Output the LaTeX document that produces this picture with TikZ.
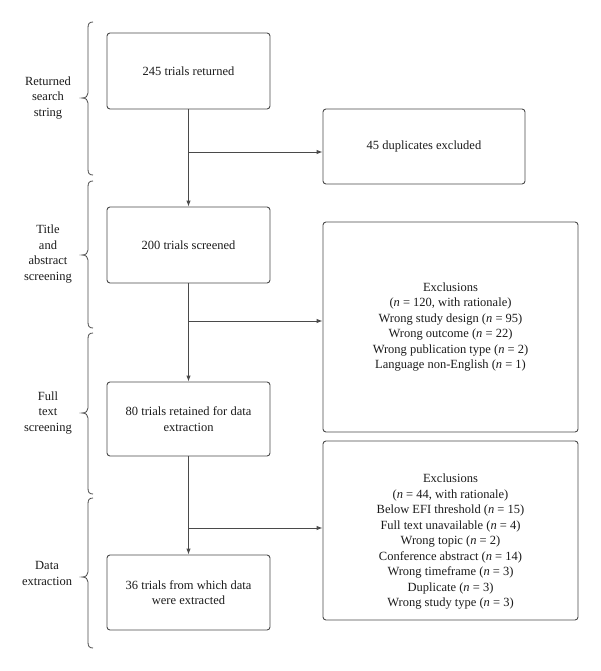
\documentclass[tikz,border=0pt]{standalone}
\usepackage{fontspec}
\setmainfont{Liberation Serif}
\usetikzlibrary{arrows.meta}
\definecolor{linec}{HTML}{4A4A4A}
\definecolor{textc}{HTML}{1A1A1A}
\begin{document}
\begin{tikzpicture}[x=1pt,y=-1pt,
  box/.style={draw=linec,line width=0.9pt,rounded corners=3pt,inner sep=0pt,align=center,text=textc,font=\fontsize{12.5}{15.5}\selectfont},
  lbl/.style={align=center,text=textc,font=\fontsize{12.5}{15.5}\selectfont,inner sep=0pt},
  conn/.style={draw=linec,line width=0.9pt},
  arr/.style={conn,-{Latex[length=6pt,width=4.5pt]}},
  brc/.style={draw=linec,line width=0.8pt}]
\useasboundingbox (0,0) rectangle (600,671);
% main boxes
\node[box,minimum width=163pt,minimum height=76pt] (b1) at (188.5,71) {245 trials returned};
\node[box,minimum width=163pt,minimum height=76pt] (b2) at (188.5,245) {200 trials screened};
\node[box,minimum width=163pt,minimum height=74pt] (b3) at (188.5,419) {80 trials retained for data\\extraction};
\node[box,minimum width=163pt,minimum height=75pt] (b4) at (188.5,592.5) {36 trials from which data\\were extracted};
% right boxes
\node[box,minimum width=202pt,minimum height=75pt] (r1) at (424,146.5) {45 duplicates excluded};
\node[box,minimum width=255pt,minimum height=210pt] (r2) at (450.5,327) {Exclusions\\(\textit{n} = 120, with rationale)\\Wrong study design (\textit{n} = 95)\\Wrong outcome (\textit{n} = 22)\\Wrong publication type (\textit{n} = 2)\\Language non-English (\textit{n} = 1)};
\node[box,minimum width=255pt,minimum height=179pt] (r3) at (450.5,530.5) {};
\node[lbl] (r3t) at (450.5,542) {Exclusions\\(\textit{n} = 44, with rationale)\\Below EFI threshold (\textit{n} = 15)\\Full text unavailable (\textit{n} = 4)\\Wrong topic (\textit{n} = 2)\\Conference abstract (\textit{n} = 14)\\Wrong timeframe (\textit{n} = 3)\\Duplicate (\textit{n} = 3)\\Wrong study type (\textit{n} = 3)};
% connectors
\coordinate (j1) at (188.5,152);
\coordinate (j2) at (188.5,321);
\coordinate (j3) at (188.5,528);
\draw[arr] (b1.south) -- (b2.north);
\draw[arr] (j1) -- (j1 -| r1.west);
\draw[arr] (b2.south) -- (b3.north);
\draw[arr] (j2) -- (j2 -| r2.west);
\draw[arr] (b3.south) -- (b4.north);
\draw[arr] (j3) -- (j3 -| r3.west);
% stage labels
\node[lbl] (s1) at (48,98) {Returned\\search\\string};
\node[lbl] (s2) at (48,254) {Title\\and\\abstract\\screening};
\node[lbl] (s3) at (48,413) {Full\\text\\screening};
\node[lbl] (s4) at (47,573.5) {Data\\extraction};
% braces
\newcommand{\mybrace}[3]{%
  \draw[brc] (93,#1) .. controls (89,#1) and (88,#1+2) .. (88,#1+6)
    -- (88,#2-5) .. controls (88,#2-2) and (86,#2) .. (82,#2)
    .. controls (86,#2) and (88,#2+2) .. (88,#2+5)
    -- (88,#3-6) .. controls (88,#3-2) and (89,#3) .. (93,#3);}
\mybrace{22}{98}{175}
\mybrace{181}{255}{328}
\mybrace{333}{413}{494}
\mybrace{498}{577}{648}
\end{tikzpicture}
\end{document}
